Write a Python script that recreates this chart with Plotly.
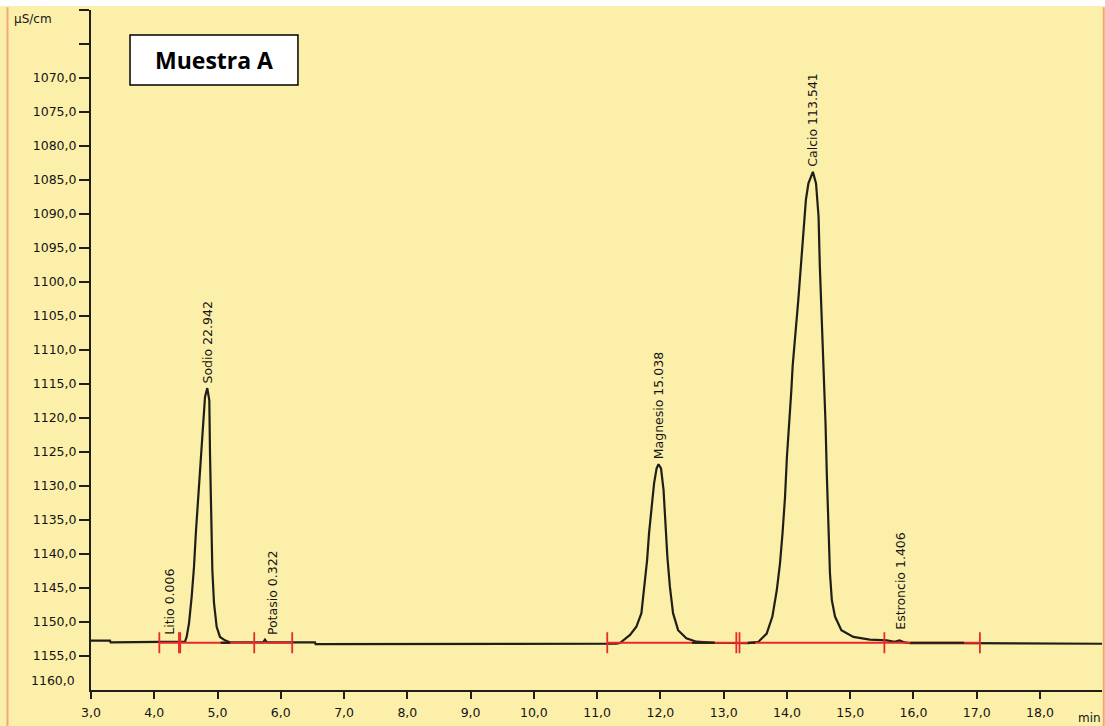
import plotly.graph_objects as go

# Chromatogram trace: retention time (min) and conductivity (µS/cm)
time_min = [
    3.00, 3.30, 3.31, 4.45, 4.486, 4.512, 4.549, 4.591, 4.628, 4.660, 4.696,
    4.723, 4.750, 4.775, 4.802, 4.838, 4.870, 4.881, 4.897, 4.918, 4.944,
    4.986, 5.039, 5.118, 5.20, 5.72, 5.75, 5.78, 6.54, 6.55,
    11.30, 11.36, 11.52, 11.62, 11.70, 11.75, 11.79, 11.82, 11.86, 11.90,
    11.94, 11.97, 12.01, 12.05, 12.08, 12.11, 12.15, 12.20, 12.28, 12.41,
    12.57, 12.86, 13.39, 13.55, 13.68, 13.77, 13.84, 13.89, 13.93, 13.97,
    14.00, 14.04, 14.07, 14.09, 14.14, 14.18, 14.22, 14.26, 14.30, 14.34,
    14.41, 14.46, 14.50, 14.52, 14.55, 14.58, 14.595, 14.61, 14.63, 14.65,
    14.68, 14.71, 14.76, 14.86, 15.05, 15.31, 15.58, 15.70, 15.78, 15.86,
    15.95, 16.80, 18.98,
]
conductivity = [
    1152.75, 1152.75, 1153.0, 1153.0, 1152.9, 1152.2, 1150.2, 1146.3, 1141.9,
    1136.5, 1131.6, 1127.2, 1122.8, 1119.3, 1116.9, 1115.6, 1117.4, 1125.2,
    1132.5, 1142.4, 1147.2, 1150.7, 1152.2, 1152.7, 1153.0, 1153.0, 1152.6,
    1153.0, 1153.0, 1153.25,
    1153.2, 1153.1, 1151.9, 1150.7, 1148.7, 1144.8, 1140.9, 1137.0, 1133.0,
    1129.6, 1127.4, 1126.8, 1127.4, 1130.6, 1135.5, 1140.4, 1144.8, 1148.7,
    1151.2, 1152.4, 1152.9, 1153.05, 1153.1, 1152.9, 1151.7, 1149.2, 1145.3,
    1141.4, 1137.0, 1131.6, 1125.7, 1120.8, 1115.9, 1112.4, 1107.5, 1102.6,
    1097.7, 1092.8, 1087.9, 1085.5, 1083.8, 1085.5, 1090.4, 1097.7, 1105.1,
    1112.4, 1116.5, 1120.8, 1128.1, 1135.5, 1142.8, 1146.8, 1149.2, 1151.2,
    1152.2, 1152.6, 1152.7, 1152.9, 1152.7, 1153.0, 1153.1, 1153.1, 1153.2,
]

# Integration baseline (red) and its peak-boundary markers
integration_spans = [(4.08, 6.18), (11.16, 17.05)]
integration_level = 1153.05
boundary_times = [4.08, 4.39, 4.41, 5.58, 6.18, 11.16, 13.20, 13.25, 15.54, 17.05]
overlay_spans = [(5.05, 5.20), (12.50, 12.86), (13.38, 13.50), (15.95, 16.80)]

# Peak identification labels
peak_names = ["Litio 0.006", "Sodio 22.942", "Potasio 0.322",
              "Magnesio 15.038", "Calcio 113.541", "Estroncio 1.406"]
peak_label_time = [4.25, 4.84, 5.86, 11.97, 14.41, 15.80]
peak_label_level = [1152.6, 1115.6, 1152.6, 1126.8, 1083.8, 1151.9]

# Axis ticks
x_ticks = [3, 4, 5, 6, 7, 8, 9, 10, 11, 12, 13, 14, 15, 16, 17, 18]
x_tick_labels = ["3,0", "4,0", "5,0", "6,0", "7,0", "8,0", "9,0", "10,0",
                 "11,0", "12,0", "13,0", "14,0", "15,0", "16,0", "17,0", "18,0"]
y_ticks = [1060, 1065, 1070, 1075, 1080, 1085, 1090, 1095, 1100, 1105, 1110,
           1115, 1120, 1125, 1130, 1135, 1140, 1145, 1150, 1155]
y_tick_labels = ["", "", "1070,0", "1075,0", "1080,0", "1085,0", "1090,0",
                 "1095,0", "1100,0", "1105,0", "1110,0", "1115,0", "1120,0",
                 "1125,0", "1130,0", "1135,0", "1140,0", "1145,0", "1150,0",
                 "1155,0"]
y_bottom_label = "1160,0"

BG = "#FCEFAA"
INK = "#1f1f17"
RED = "#E8282A"
TXT = "DejaVu Sans"
TXT_COLOR = "#141414"

fig = go.Figure()

fig.add_trace(go.Scatter(
    x=time_min, y=conductivity, mode="lines",
    line=dict(color=INK, width=2.2), hoverinfo="skip", showlegend=False,
))

red_x, red_y = [], []
for a, b in integration_spans:
    red_x += [a, b, None]
    red_y += [integration_level, integration_level, None]
fig.add_trace(go.Scatter(
    x=red_x, y=red_y, mode="lines",
    line=dict(color=RED, width=2), hoverinfo="skip", showlegend=False,
))

dark_x, dark_y = [], []
for a, b in overlay_spans:
    dark_x += [a, b, None]
    dark_y += [integration_level, integration_level, None]
fig.add_trace(go.Scatter(
    x=dark_x, y=dark_y, mode="lines",
    line=dict(color=INK, width=2.2), hoverinfo="skip", showlegend=False,
))

fig.add_trace(go.Scatter(
    x=boundary_times, y=[integration_level] * len(boundary_times),
    mode="markers",
    marker=dict(symbol="line-ns", size=15, line=dict(color=RED, width=1.8)),
    hoverinfo="skip", showlegend=False,
))

for name, t, v in zip(peak_names, peak_label_time, peak_label_level):
    fig.add_annotation(
        x=t, y=v, text=name, textangle=-90, showarrow=False,
        xanchor="center", yanchor="bottom", yshift=3,
        font=dict(family=TXT, size=12.5, color=TXT_COLOR),
    )

# Bottom y label sits just above the x axis line
fig.add_annotation(
    xref="paper", x=0, xanchor="right", xshift=-14,
    yref="y", y=1160, yanchor="middle", yshift=10,
    text=y_bottom_label, showarrow=False,
    font=dict(family=TXT, size=12.5, color=TXT_COLOR),
)

# Units
fig.add_annotation(
    xref="paper", x=-0.0782, xanchor="left",
    yref="paper", y=0.9868, yanchor="middle",
    text="µS/cm", showarrow=False,
    font=dict(family=TXT, size=12, color=TXT_COLOR),
)
fig.add_annotation(
    xref="paper", x=0.974, xanchor="left",
    yref="paper", y=-0.0405, yanchor="middle",
    text="min", showarrow=False,
    font=dict(family=TXT, size=12, color=TXT_COLOR),
)

# Sample title box
fig.add_shape(
    type="rect", xref="paper", yref="paper",
    x0=0.0386, x1=0.2047, y0=0.8897, y1=0.9632,
    fillcolor="white", line=dict(color="black", width=1.5), layer="above",
)
fig.add_annotation(
    xref="paper", yref="paper", x=0.1216, y=0.9265,
    xanchor="center", yanchor="middle",
    text="<b>Muestra A</b>", showarrow=False,
    font=dict(family="Open Sans", size=23, color="black"),
)

# Window frame: white strip on top, orange side borders
fig.add_shape(type="rect", xref="paper", yref="paper",
              x0=-0.2, x1=1.2, y0=1.006, y1=1.03,
              fillcolor="white", line=dict(width=0), layer="above")
fig.add_shape(type="line", xref="paper", yref="paper",
              x0=-0.0826, x1=-0.0826, y0=-0.06, y1=1.004,
              line=dict(color="#EFA87C", width=2), layer="above")
fig.add_shape(type="line", xref="paper", yref="paper",
              x0=1.0017, x1=1.0017, y0=-0.06, y1=1.004,
              line=dict(color="#EFA87C", width=2), layer="above")

fig.update_layout(
    width=1105, height=726,
    margin=dict(l=91, r=3, t=10, b=36),
    paper_bgcolor=BG, plot_bgcolor=BG,
    showlegend=False,
    xaxis=dict(
        range=[3.0, 18.98], tickmode="array",
        tickvals=x_ticks, ticktext=x_tick_labels,
        ticks="outside", ticklen=7, tickwidth=2, tickcolor=INK,
        ticklabelstandoff=3,
        showline=True, linecolor=INK, linewidth=2,
        showgrid=False, zeroline=False,
        tickfont=dict(family=TXT, size=12.5, color=TXT_COLOR),
    ),
    yaxis=dict(
        range=[1160, 1060], tickmode="array",
        tickvals=y_ticks, ticktext=y_tick_labels,
        ticks="outside", ticklen=10, tickwidth=2, tickcolor=INK,
        showline=True, linecolor=INK, linewidth=2,
        showgrid=False, zeroline=False,
        tickfont=dict(family=TXT, size=12.5, color=TXT_COLOR),
    ),
)

fig.write_html("out.html")
